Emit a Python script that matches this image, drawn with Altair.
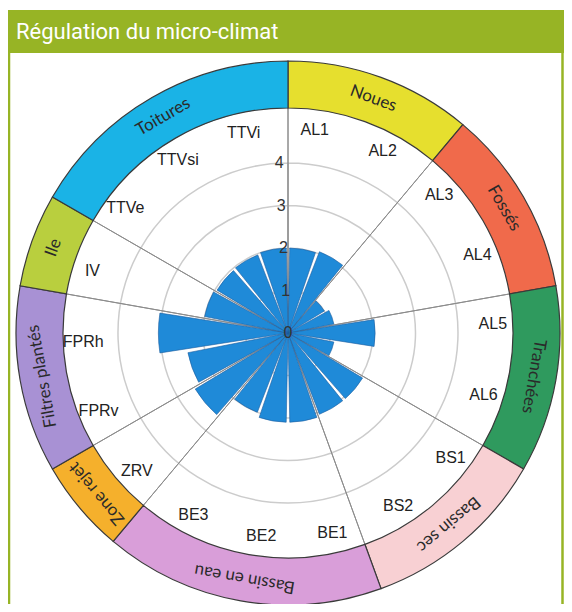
import math
import altair as alt
import pandas as pd

# ---------------- data ----------------
categories = ["AL1", "AL2", "AL3", "AL4", "AL5", "AL6", "BS1", "BS2", "BE1", "BE2",
              "BE3", "ZRV", "FPRv", "FPRh", "IV", "TTVe", "TTVsi", "TTVi"]
values = [2.0, 2.05, 1.0, 1.1, 2.05, 1.1, 2.05, 2.05, 2.1, 2.1,
          2.0, 2.55, 2.4, 3.05, 2.0, 1.95, 1.97, 2.0]

groups = ["Noues", "Fossés", "Tranchées", "Bassin sec", "Bassin en eau",
          "Zone rejet", "Filtres plantés", "Ile", "Toitures"]
group_sizes = [2, 2, 2, 2, 3, 1, 2, 1, 3]
group_colors = ["#e6df2e", "#f06a4b", "#2f9a5e", "#f8d0d3", "#d99ed9",
                "#f5b02c", "#a891d4", "#b9cf3e", "#1ab3e6"]

radial_ticks = [0, 1, 2, 3, 4]
title_text = "Régulation du micro-climat"

# ---------------- derived tables ----------------
n = len(categories)
sector = 360.0 / n
LABEL_SHIFT = -2.5  # labels sit slightly anticlockwise of sector centres
bar_df = pd.DataFrame({
    "cat": categories,
    "value": values,
    "start": [i * sector for i in range(n)],
    "end": [(i + 1) * sector for i in range(n)],
})
bar_df["mid"] = (bar_df["start"] + bar_df["end"]) / 2
bar_df["lab"] = bar_df["mid"] + LABEL_SHIFT

g_start, acc = [], 0
for s in group_sizes:
    g_start.append(acc * sector)
    acc += s
grp_df = pd.DataFrame({
    "group": groups,
    "start": g_start,
    "end": [a + s * sector for a, s in zip(g_start, group_sizes)],
    "color": group_colors,
})
grp_df["mid"] = (grp_df["start"] + grp_df["end"]) / 2

tick_df = pd.DataFrame({"r": radial_ticks, "label": [str(t) for t in radial_ticks], "ang": 357})
grid_df = pd.DataFrame({"r": radial_ticks[1:], "start": 0.0, "end": 359.99})

# ---------------- layout ----------------
W, H = 556, 596
CX, CY = 280, 325
R_IN, R_OUT = 225, 272
TH = alt.Scale(domain=[0, 360], range=[0, 2 * math.pi])
RS = alt.Scale(type="linear", domain=[0, 5], range=[0, 212.5])
GREEN = "#97b425"

none_data = alt.Data(values=[{}])

title_bar = alt.Chart(none_data).mark_rect(color=GREEN).encode(
    x=alt.value(0), x2=alt.value(W), y=alt.value(2), y2=alt.value(45))
left_line = alt.Chart(none_data).mark_rule(color=GREEN, strokeWidth=2.5).encode(
    x=alt.value(1), y=alt.value(45), y2=alt.value(H))
right_line = alt.Chart(none_data).mark_rule(color=GREEN, strokeWidth=2.5).encode(
    x=alt.value(W - 1.5), y=alt.value(45), y2=alt.value(H))
title = alt.Chart(none_data).mark_text(
    text=title_text, font="Roboto", fontSize=22, color="white",
    align="left", baseline="middle").encode(x=alt.value(8), y=alt.value(24))

grid = alt.Chart(grid_df).mark_arc(
    fillOpacity=0, stroke="#cccccc", strokeWidth=1.5
).encode(
    theta=alt.Theta("start:Q", scale=TH, stack=None), theta2="end:Q",
    radius=alt.Radius("r:Q", scale=RS), radius2=alt.value(0),
    x=alt.value(CX), y=alt.value(CY))

spokes = alt.Chart(grp_df).mark_arc(fillOpacity=0, stroke="#8c8c8c", strokeWidth=1).encode(
    theta=alt.Theta("start:Q", scale=TH, stack=None), theta2="start:Q",
    radius=alt.value(R_IN), radius2=alt.value(0),
    x=alt.value(CX), y=alt.value(CY))

bars = alt.Chart(bar_df).mark_arc(
    padAngle=0.04, fill="#1f8ad8", stroke="#1d5c9e", strokeWidth=0.6
).encode(
    theta=alt.Theta("start:Q", scale=TH, stack=None), theta2="end:Q",
    radius=alt.Radius("value:Q", scale=RS), radius2=alt.value(0),
    x=alt.value(CX), y=alt.value(CY))

ring = alt.Chart(grp_df).mark_arc(stroke="#3a3a3a", strokeWidth=1.2).encode(
    theta=alt.Theta("start:Q", scale=TH, stack=None), theta2="end:Q",
    radius=alt.value(R_OUT), radius2=alt.value(R_IN),
    fill=alt.Fill("color:N", scale=None),
    x=alt.value(CX), y=alt.value(CY))

ring_labels = alt.Chart(grp_df).mark_text(
    font="Lato", fontSize=17, color="#2a2a2a", align="center", baseline="middle"
).encode(
    theta=alt.Theta("mid:Q", scale=TH, stack=None),
    radius=alt.value((R_IN + R_OUT) / 2 + 1),
    angle=alt.Angle("mid:Q", scale=None),
    text="group:N",
    x=alt.value(CX), y=alt.value(CY))

cat_labels = alt.Chart(bar_df).mark_text(
    font="Liberation Sans", fontSize=16, color="#222222", align="center", baseline="middle"
).encode(
    theta=alt.Theta("lab:Q", scale=TH, stack=None),
    radius=alt.value(205),
    text="cat:N",
    x=alt.value(CX), y=alt.value(CY))

tick_labels = alt.Chart(tick_df).mark_text(
    font="Liberation Sans", fontSize=16, color="#333333", align="center", baseline="middle"
).encode(
    theta=alt.Theta("ang:Q", scale=TH, stack=None),
    radius=alt.Radius("r:Q", scale=RS),
    text="label:N",
    x=alt.value(CX), y=alt.value(CY))

chart = alt.layer(
    title_bar, left_line, right_line, title,
    grid, spokes, bars, ring, ring_labels, cat_labels, tick_labels
).properties(
    width=W, height=H, padding=0, background="white",
    autosize=alt.AutoSizeParams(type="none")
).configure_view(stroke=None)

chart.save("out.html", embed_options={"renderer": "svg", "actions": False})
